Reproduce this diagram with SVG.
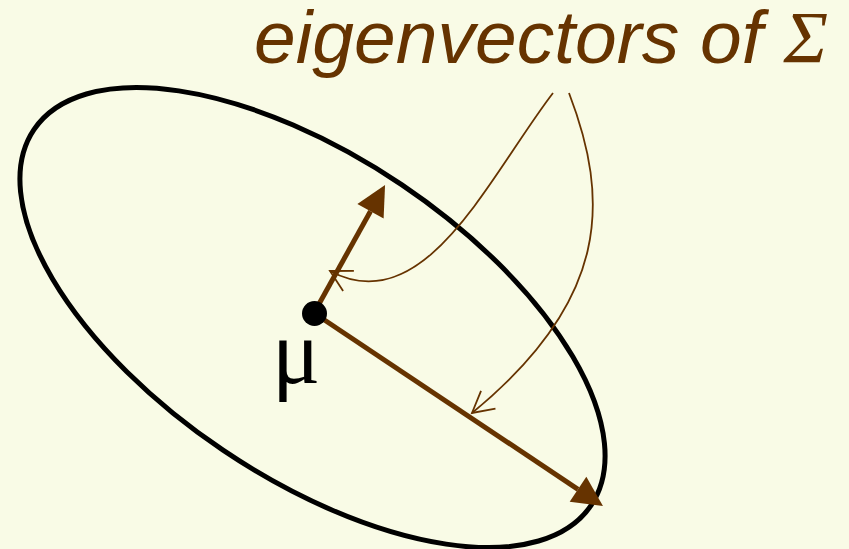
<svg xmlns="http://www.w3.org/2000/svg" width="849" height="549" viewBox="0 0 849 549">
  <style>
    .thick { stroke: #663300; stroke-width: 5; fill: none; }
    .thin { stroke: #663300; stroke-width: 1.8; fill: none; }
    .label { font-family: "Liberation Sans", Arial, sans-serif; font-style: italic; font-size: 75px; fill: #663300; }
    .sigma { font-family: "Liberation Serif", "Times New Roman", serif; font-style: italic; }
    .mu { font-family: "Liberation Serif", "Times New Roman", serif; font-size: 90px; fill: #000; }
  </style>
  <defs>
    <marker id="solidHead" markerUnits="userSpaceOnUse" markerWidth="32" markerHeight="32" refX="0" refY="15" orient="auto" overflow="visible">
      <path d="M0,0 L30,15 L0,30 Z" fill="#663300"/>
    </marker>
    <marker id="openHead" markerUnits="userSpaceOnUse" markerWidth="30" markerHeight="30" refX="0" refY="0" orient="auto" overflow="visible">
      <path d="M-21,-11.4 L0,0 L-21,11.4" fill="none" stroke="#663300" stroke-width="1.8"/>
    </marker>
  </defs>
  <rect width="849" height="549" fill="#f9fbe6"/>

  <g id="ellipse">
    <ellipse cx="312.5" cy="317.5" rx="336" ry="160" transform="rotate(34 312.5 317.5)" fill="none" stroke="#000" stroke-width="5"/>
  </g>

  <g id="connectors">
    <line id="eig-short" class="thick" x1="314" y1="313" x2="370.5" y2="211.2" marker-end="url(#solidHead)"/>
    <line id="eig-long" class="thick" x1="314" y1="313" x2="578" y2="489.3" marker-end="url(#solidHead)"/>
    <path id="pointer-short" class="thin" d="M553,93 C490,175 425,322 330,271" marker-end="url(#openHead)"/>
    <path id="pointer-long" class="thin" d="M569,93 C610,200 610,300 472,413" marker-end="url(#openHead)"/>
  </g>

  <g id="mean">
    <circle cx="314.5" cy="313.5" r="12.5" fill="#000"/>
    <text class="mu" x="272" y="383">μ</text>
  </g>

  <g id="label">
    <text class="label" x="254" y="63">eigenvectors of <tspan class="sigma">Σ</tspan></text>
  </g>
</svg>
